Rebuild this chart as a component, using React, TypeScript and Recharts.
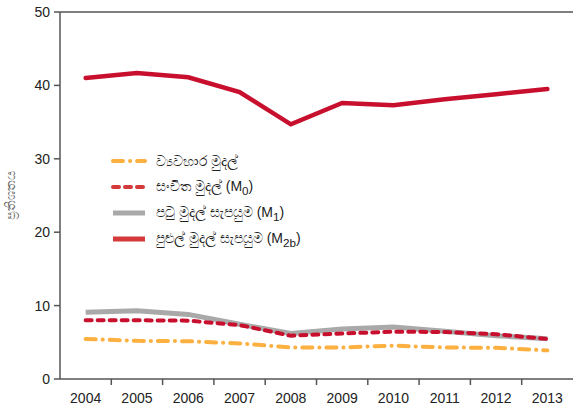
import { LineChart, Line, XAxis, YAxis, Legend, ReferenceLine } from 'recharts';

const years = ['2004', '2005', '2006', '2007', '2008', '2009', '2010', '2011', '2012', '2013'];
const currency = [5.45, 5.2, 5.15, 4.85, 4.3, 4.3, 4.55, 4.3, 4.25, 3.9];
const reserveM0 = [8.0, 8.0, 7.95, 7.35, 5.9, 6.2, 6.45, 6.4, 6.1, 5.45];
const narrowM1 = [9.1, 9.3, 8.8, 7.45, 6.2, 6.8, 7.1, 6.5, 5.9, 5.5];
const broadM2b = [41.0, 41.7, 41.1, 39.1, 34.7, 37.6, 37.3, 38.1, 38.8, 39.5];
const yTicks = [0, 10, 20, 30, 40, 50];

const data = years.map((y, i) => ({
  idx: i,
  year: y,
  currency: currency[i],
  m0: reserveM0[i],
  m1: narrowM1[i],
  m2b: broadM2b[i],
}));

// year labels sit on whole numbers, tick marks on the boundaries between years
const xTicks = years.flatMap((_, i) => (i === 0 ? [i] : [i - 0.5, i]));

const FONT = 'Liberation Sans, Arial, sans-serif';
const axisColor = '#555';
const tickStyle = { fontSize: 14, fill: '#222', fontFamily: FONT };

const ORANGE = '#fbb040';
const CRIMSON = '#c8102e';
const GRAY = '#a9a9a9';

const legendItems = [
  { key: 'currency', color: ORANGE, dash: '10 7 0.1 7', width: 4, label: <>ව්‍යවහාර මුදල්</> },
  { key: 'm0', color: '#d43a3a', dash: '6 6', width: 4, label: <>සංචිත මුදල් (M<sub>0</sub>)</> },
  { key: 'm1', color: GRAY, dash: undefined, width: 5, label: <>පටු මුදල් සැපයුම (M<sub>1</sub>)</> },
  { key: 'm2b', color: '#d43a3a', dash: undefined, width: 5, label: <>පුළුල් මුදල් සැපයුම (M<sub>2b</sub>)</> },
];

function LegendBox() {
  return (
    <div style={{ fontFamily: FONT, fontSize: 14, color: '#222' }}>
      {legendItems.map((it) => (
        <div key={it.key} style={{ display: 'flex', alignItems: 'center', height: 26 }}>
          <svg width={40} height={10} style={{ marginRight: 6 }}>
            <line
              x1={3}
              y1={5}
              x2={35}
              y2={5}
              stroke={it.color}
              strokeWidth={it.width}
              strokeDasharray={it.dash}
              strokeLinecap={it.dash ? 'round' : 'butt'}
            />
          </svg>
          <span>{it.label}</span>
        </div>
      ))}
    </div>
  );
}

function YearTick({ x, y, payload }: any) {
  const v = payload.value as number;
  if (!Number.isInteger(v)) {
    return <line x1={x} y1={y} x2={x} y2={y + 6} stroke={axisColor} strokeWidth={1.5} />;
  }
  return (
    <text x={x} y={y + 19} textAnchor="middle" dominantBaseline="central" {...tickStyle}>
      {years[v]}
    </text>
  );
}

export default function App() {
  return (
    <div style={{ position: 'absolute', left: 0, top: 0, background: '#fff' }}>
      <LineChart width={574} height={414} data={data} margin={{ top: 12, right: 1, bottom: 0, left: 0 }}>
        <XAxis
          dataKey="idx"
          type="number"
          domain={[-0.5, 9.5]}
          ticks={xTicks}
          tick={<YearTick />}
          tickLine={false}
          tickSize={0}
          tickMargin={0}
          axisLine={{ stroke: axisColor, strokeWidth: 1.5 }}
          height={35}
          interval={0}
        />
        <YAxis
          domain={[0, 50]}
          ticks={yTicks}
          tick={tickStyle}
          tickLine={{ stroke: axisColor, strokeWidth: 1.5 }}
          tickSize={6}
          tickMargin={4}
          axisLine={{ stroke: axisColor, strokeWidth: 1.5 }}
          width={60}
          interval={0}
          label={{
            value: 'ප්‍රතිශතය',
            angle: -90,
            position: 'insideLeft',
            offset: 10,
            style: { fontSize: 13, fill: '#666', fontFamily: FONT, textAnchor: 'middle' },
          }}
        />
        <ReferenceLine y={50} stroke={axisColor} strokeWidth={1.5} />
        <Legend
          layout="horizontal"
          verticalAlign="middle"
          align="center"
          content={() => <LegendBox />}
          wrapperStyle={{ position: 'absolute', left: 110, top: 148, width: 280 }}
        />
        <Line
          dataKey="m1"
          stroke={GRAY}
          strokeWidth={5}
          dot={false}
          isAnimationActive={false}
        />
        <Line
          dataKey="currency"
          stroke={ORANGE}
          strokeWidth={4}
          strokeDasharray="10 7 0.1 7"
          strokeLinecap="round"
          dot={false}
          isAnimationActive={false}
        />
        <Line
          dataKey="m0"
          stroke={CRIMSON}
          strokeWidth={4}
          strokeDasharray="6 6"
          strokeLinecap="round"
          dot={false}
          isAnimationActive={false}
        />
        <Line
          dataKey="m2b"
          stroke={CRIMSON}
          strokeWidth={4.5}
          strokeLinecap="round"
          dot={false}
          isAnimationActive={false}
        />
      </LineChart>
    </div>
  );
}
